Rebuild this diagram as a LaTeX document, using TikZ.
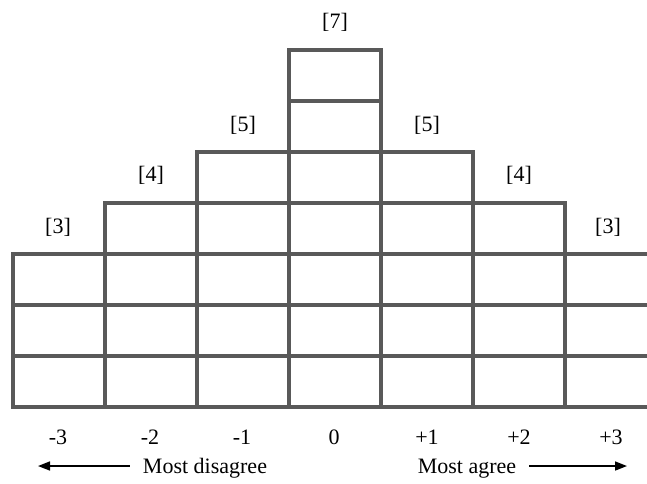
\documentclass[tikz,border=0pt]{standalone}
\usepackage{fontspec}
\setmainfont{Liberation Serif}
\usetikzlibrary{arrows.meta}
\begin{document}
\begin{tikzpicture}[x=1pt,y=-1pt,
  gridline/.style={draw=black!65, line width=4pt, line join=miter},
  lbl/.style={font=\fontsize{22}{26}\selectfont, inner sep=0pt, anchor=base},
  pointer/.style={draw=black, line width=1.6pt, -{Triangle[length=12pt,width=9pt]}}]
\useasboundingbox (0,0) rectangle (647,483);
% outline
\draw[gridline] (647,254) -- (565,254) -- (565,203) -- (473,203) -- (473,152) -- (381,152)
  -- (381,50) -- (289,50) -- (289,152) -- (197,152) -- (197,203) -- (105,203) -- (105,254)
  -- (13,254) -- (13,407) -- (647,407);
% inner horizontals
\draw[gridline] (13,356) -- (647,356);
\draw[gridline] (13,305) -- (647,305);
\draw[gridline] (105,254) -- (565,254);
\draw[gridline] (197,203) -- (473,203);
\draw[gridline] (289,152) -- (381,152);
\draw[gridline] (289,101) -- (381,101);
% inner verticals
\draw[gridline] (105,254) -- (105,407);
\draw[gridline] (197,203) -- (197,407);
\draw[gridline] (289,152) -- (289,407);
\draw[gridline] (381,152) -- (381,407);
\draw[gridline] (473,203) -- (473,407);
\draw[gridline] (565,254) -- (565,407);
% counts
\node[lbl] (c1) at (58,233) {[3]};
\node[lbl] (c2) at (151,181) {[4]};
\node[lbl] (c3) at (243,131) {[5]};
\node[lbl] (c4) at (335,28) {[7]};
\node[lbl] (c5) at (427,131) {[5]};
\node[lbl] (c6) at (519,181) {[4]};
\node[lbl] (c7) at (608,233) {[3]};
% scale
\node[lbl] (s1) at (58,444) {-3};
\node[lbl] (s2) at (150,444) {-2};
\node[lbl] (s3) at (242,444) {-1};
\node[lbl] (s4) at (334,444) {0};
\node[lbl] (s5) at (427,444) {+1};
\node[lbl] (s6) at (519,444) {+2};
\node[lbl] (s7) at (611,444) {+3};
% captions
\node[lbl] (dis) at (205,473) {Most disagree};
\node[lbl] (agr) at (467,473) {Most agree};
\coordinate (lend) at (38,466);
\coordinate (rend) at (627,466);
\draw[pointer] ([xshift=-13pt,yshift=7pt]dis.base west) -- (lend);
\draw[pointer] ([xshift=13pt,yshift=7pt]agr.base east) -- (rend);
\end{tikzpicture}
\end{document}
